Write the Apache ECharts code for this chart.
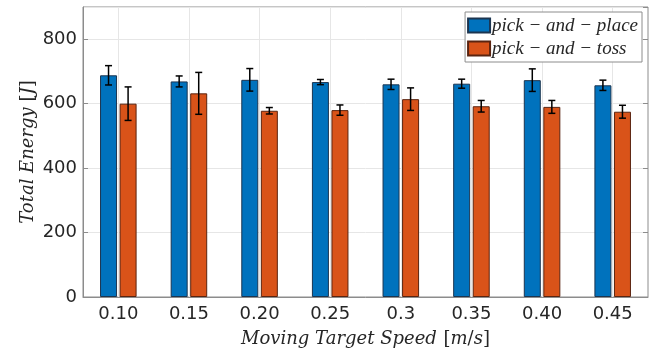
<!DOCTYPE html>
<html><head><meta charset="utf-8">
<script src="https://cdn.jsdelivr.net/npm/echarts@6/dist/echarts.min.js"></script>
<style>html,body{margin:0;padding:0;background:#fff}#c{width:664px;height:352px}</style>
</head><body><div id="c"></div>
<script>
const categories = ['0.10','0.15','0.20','0.25','0.3','0.35','0.40','0.45'];
const placeMean = [688, 669, 674, 667, 660, 662, 673, 657];
const placeErr  = [30, 17, 35, 8, 16, 14, 35, 16];
const tossMean  = [600, 632, 578, 580, 614, 592, 590, 575];
const tossErr   = [52, 65, 10, 16, 35, 18, 20, 20];
const seriesNames = ['pick \u2212 and \u2212 place', 'pick \u2212 and \u2212 toss'];
const yTicks = [0, 200, 400, 600, 800];

const chart = echarts.init(document.getElementById('c'));
const BAR_W = 17, GAP = 0.15;
const offs = [-(BAR_W*(1+GAP))/2, (BAR_W*(1+GAP))/2];
function errSeries(mean, err, k) {
  return {
    type: 'custom', z: 10, silent: true,
    data: mean.map((m, i) => [i, m - err[i], m + err[i]]),
    renderItem(params, api) {
      const i = api.value(0);
      const lo = api.coord([i, api.value(1)]);
      const hi = api.coord([i, api.value(2)]);
      const x = lo[0] + offs[k];
      const c = 3.5;
      const st = {stroke: '#000', lineWidth: 1.5};
      return {type: 'group', children: [
        {type: 'line', shape: {x1: x, y1: lo[1], x2: x, y2: hi[1]}, style: st},
        {type: 'line', shape: {x1: x - c, y1: lo[1], x2: x + c, y2: lo[1]}, style: st},
        {type: 'line', shape: {x1: x - c, y1: hi[1], x2: x + c, y2: hi[1]}, style: st}
      ]};
    }
  };
}
const axisGray = '#8c8c8c';
const txt = '#262626';
const mathFont = {i: {fontFamily: 'DejaVu Serif', fontStyle: 'italic', fontSize: 18, color: txt},
                  r: {fontFamily: 'DejaVu Serif', fontSize: 18, color: txt}};
chart.setOption({
  animation: false,
  grid: {left: 83, right: 16, top: 7, bottom: 55, show: true, borderColor: axisGray, borderWidth: 1,
         outerBoundsMode: 'none', containLabel: false},
  legend: {
    orient: 'vertical', right: 22, top: 12, padding: [4, 4, 4, 2], itemGap: 4, icon: 'rect',
    itemWidth: 22, itemHeight: 14, backgroundColor: '#fff', borderColor: axisGray, borderWidth: 1,
    textStyle: {fontFamily: 'Liberation Serif', fontStyle: 'italic', fontSize: 19, color: txt, padding: [0,0,0,-3]},
    data: seriesNames
  },
  xAxis: [{
    type: 'category', data: categories,
    name: '{i|Moving Target Speed}  {r|[}{i|m}{r|/}{i|s}{r|]}', nameLocation: 'middle', nameGap: 33,
    nameMoveOverlap: false,
    nameTextStyle: {rich: mathFont},
    axisLine: {lineStyle: {color: axisGray}},
    axisTick: {inside: true, alignWithLabel: true, length: 5, lineStyle: {color: axisGray}},
    axisLabel: {fontFamily: 'DejaVu Sans', fontSize: 18, color: txt, margin: 8},
    splitLine: {show: true, alignWithLabel: true, lineStyle: {color: '#e6e6e6'}}
  }],
  yAxis: [{
    type: 'value', min: 0, max: 900, interval: 200,
    name: '{i|Total Energy\u00a0}{r|[}{i|J}{r|]}', nameLocation: 'middle', nameGap: 46,
    nameMoveOverlap: false,
    nameTextStyle: {rich: mathFont},
    axisLine: {show: true, lineStyle: {color: axisGray}},
    axisTick: {show: true, inside: true, length: 5, lineStyle: {color: axisGray}},
    axisLabel: {fontFamily: 'DejaVu Sans', fontSize: 18, color: txt, margin: 6, showMaxLabel: false,
      formatter: v => yTicks.includes(v) ? String(v) : ''},
    splitLine: {show: true, lineStyle: {color: '#e6e6e6'}}
  }, {
    type: 'value', min: 0, max: 900, interval: 200, position: 'right',
    axisLine: {show: false}, axisLabel: {show: false}, splitLine: {show: false},
    axisTick: {show: true, inside: true, length: 5, lineStyle: {color: axisGray}}
  }],
  series: [
    {name: seriesNames[0], type: 'bar', data: placeMean, barWidth: BAR_W, barGap: (GAP*100) + '%',
     itemStyle: {color: '#0072BD', borderColor: '#1c3550', borderWidth: 1}},
    {name: seriesNames[1], type: 'bar', data: tossMean, barWidth: BAR_W, barGap: (GAP*100) + '%',
     itemStyle: {color: '#D95319', borderColor: '#5a2410', borderWidth: 1}},
    errSeries(placeMean, placeErr, 0),
    errSeries(tossMean, tossErr, 1)
  ]
});
</script></body></html>
